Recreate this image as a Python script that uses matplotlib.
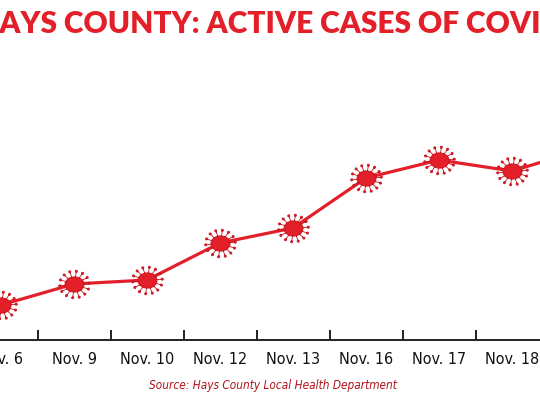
import numpy as np
import matplotlib
matplotlib.use("Agg")
import matplotlib.pyplot as plt
from matplotlib.path import Path
from matplotlib import font_manager as fm

# ---- data (arbitrary units) ----
dates = ["Nov. 6", "Nov. 9", "Nov. 10", "Nov. 12", "Nov. 13",
         "Nov. 16", "Nov. 17", "Nov. 18", "Nov. 19"]
active_cases = [35, 56, 60, 97, 112, 162, 180, 169, 191]
title_text = "HAYS COUNTY: ACTIVE CASES OF COVID-19"
source_text = "Source: Hays County Local Health Department"

RED = "#e3202a"
DARK = "#c8161f"

# ---- find a condensed font if available ----
def find_font(keys, italic=False):
    for f in fm.fontManager.ttflist:
        name = f.fname.lower()
        if any(k in name for k in keys):
            is_it = ("italic" in name or "oblique" in name)
            if is_it == italic and "bold" not in name:
                return fm.FontProperties(fname=f.fname)
    return None

cond = find_font(["condensed", "narrow"])
cond_it = find_font(["condensed", "narrow"], italic=True)

# ---- virus marker path ----
def virus_marker(n=14):
    verts, codes = [], []
    t = np.linspace(0, 2 * np.pi, 40)
    ex, ey = 0.60 * np.cos(t), 0.48 * np.sin(t)
    verts += list(zip(ex, ey))
    codes += [Path.MOVETO] + [Path.LINETO] * (len(t) - 2) + [Path.CLOSEPOLY]
    for k in range(n):
        a = 2 * np.pi * k / n + 0.1
        c, s = np.cos(a), np.sin(a)
        r0, r1 = 0.5, 0.88
        verts += [(r0 * c, r0 * s * 0.9), (r1 * c, r1 * s * 0.9)]
        codes += [Path.MOVETO, Path.LINETO]
        tt = np.linspace(0, 2 * np.pi, 8)
        cx, cy = 0.93 * c, 0.93 * s * 0.9
        verts += list(zip(cx + 0.07 * np.cos(tt), cy + 0.07 * np.sin(tt)))
        codes += [Path.MOVETO] + [Path.LINETO] * (len(tt) - 2) + [Path.CLOSEPOLY]
    verts += [(1.0, 1.0), (-1.0, -1.0)]
    codes += [Path.MOVETO, Path.MOVETO]
    return Path(verts, codes)

W, H = 540, 407
fig = plt.figure(figsize=(W / 100, H / 100), dpi=100)
fig.patch.set_facecolor("white")

ax_bottom = 1 - 340 / H
ax_top = 1 - 60 / H
ax = fig.add_axes([0, ax_bottom, 1, ax_top - ax_bottom])

x = np.arange(len(dates))

ax.plot(x, active_cases, color=RED, lw=2.3, zorder=2, solid_capstyle="round")
ax.plot(x, active_cases, linestyle="none", marker=virus_marker(), markersize=23,
        markerfacecolor=RED, markeredgecolor=DARK, markeredgewidth=0.6, zorder=3)

for side in ["top", "right", "left"]:
    ax.spines[side].set_visible(False)
ax.spines["bottom"].set_linewidth(1.4)
ax.spines["bottom"].set_color("#222222")
ax.set_yticks([])
ax.set_xticks(x[:-1] + 0.5)
ax.set_xticklabels([])
ax.tick_params(axis="x", direction="in", length=7, width=1.4, color="#222222")
ax.set_xticks(x, minor=True)
if cond is not None:
    labs = ax.set_xticklabels(dates, minor=True, fontproperties=cond, color="#111111")
    for l in labs:
        l.set_fontsize(11.5)
else:
    ax.set_xticklabels(dates, minor=True, fontsize=11,
                       family=["Liberation Sans", "DejaVu Sans"], color="#111111")
ax.tick_params(axis="x", which="minor", length=0, pad=9)
ax.patch.set_alpha(0)

px = 73.0
off = 1.0 / px
ax.set_xlim(-off, (W - 1.0) / px)
ax.set_ylim(0, 280)

# title: "COUNTY" starts near x=43 px, leading "HAYS " runs off the left edge
tfam = ["Lato", "DejaVu Sans"]
tsize = 21.5
renderer = fig.canvas.get_renderer()
p1 = fig.text(0, 0, "HAYS COUNTY", fontsize=tsize, fontweight="heavy", family=tfam)
p2 = fig.text(0, 0, "COUNTY", fontsize=tsize, fontweight="heavy", family=tfam)
w_pre = p1.get_window_extent(renderer).width - p2.get_window_extent(renderer).width
p1.remove()
p2.remove()
fig.text((43 - w_pre + 21) / W, 1 - 24 / H, title_text, ha="left", va="center",
         fontsize=tsize, fontweight="heavy", color=RED, family=tfam)

if cond_it is not None:
    st = fig.text(273 / W, 1 - 385 / H, source_text, ha="center", va="center",
                  fontproperties=cond_it, color="#b0141c")
    st.set_fontsize(8.5)
else:
    fig.text(273 / W, 1 - 385 / H, source_text, ha="center", va="center",
             fontsize=8.5, style="italic", color="#b0141c",
             family=["Liberation Sans", "DejaVu Sans"])

fig.savefig("out.png", dpi=100)
